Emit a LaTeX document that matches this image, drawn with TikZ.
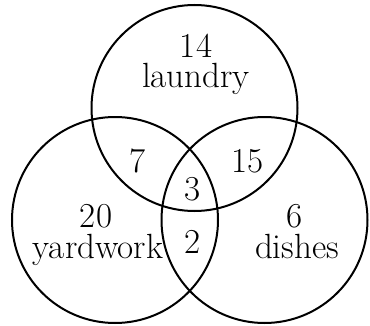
\documentclass[tikz,border=0pt]{standalone}
\usepackage{tikz}

\begin{document}
\begin{tikzpicture}[
                    x=1pt, y=1pt,
                    ring/.style={draw, line width=2pt},
                    lbl/.style={font=\fontsize{35}{30}\selectfont, anchor=base, inner sep=0pt}
                ]
                    \useasboundingbox (0,0) rectangle (370,325);
                    \coordinate (laundryc) at (194.5,217);
                    \coordinate (yardc) at (115,105);
                    \coordinate (dishc) at (264.5,105);
                    \draw[ring] (laundryc) circle (103);
                    \draw[ring] (yardc) circle (103);
                    \draw[ring] (dishc) circle (103);
                    % set names and counts
                    \node[lbl] (nlaundry) at (196,268) {14};
                    \node[lbl] (laundry) at (196,238) {laundry};
                    \node[lbl] (nyard) at (96,98) {20};
                    \node[lbl] (yard) at (98,67) {yardwork};
                    \node[lbl] (ndish) at (295,98) {6};
                    \node[lbl] (dish) at (297,67) {dishes};
                    % overlaps
                    \node[lbl] (nly) at (138,153) {7};
                    \node[lbl] (nld) at (247.5,153) {15};
                    \node[lbl] (nall) at (192.5,125) {3};
                    \node[lbl] (nyd) at (192.5,72) {2};
                \end{tikzpicture}
\end{document}
